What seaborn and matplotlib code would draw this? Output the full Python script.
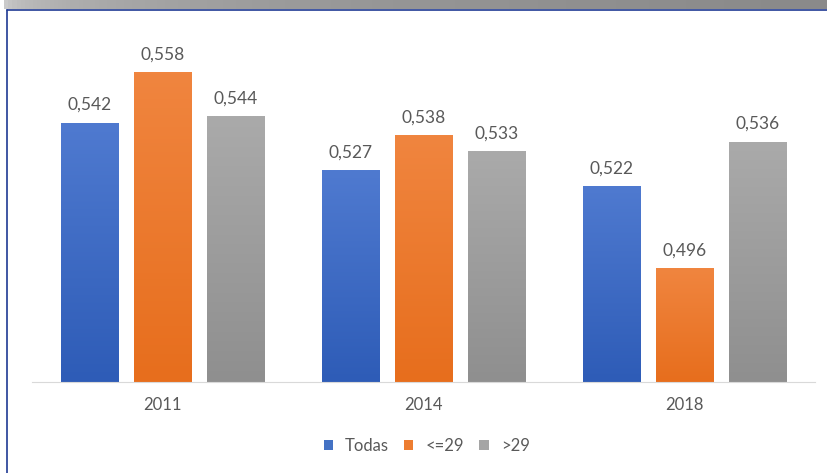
import numpy as np
import pandas as pd
import matplotlib
matplotlib.use("Agg")
from matplotlib import pyplot as plt
from matplotlib.colors import LinearSegmentedColormap
from matplotlib.patches import Patch
import seaborn as sns

years = ["2011", "2014", "2018"]
groups = ["Todas", "<=29", ">29"]
todas = [0.542, 0.527, 0.522]
menor29 = [0.558, 0.538, 0.496]
mayor29 = [0.544, 0.533, 0.536]

colors = {"Todas": "#4472C4", "<=29": "#ED7D31", ">29": "#A5A5A5"}
grad_top = {"Todas": "#4f7ad0", "<=29": "#f0853f", ">29": "#aaaaaa"}
grad_bot = {"Todas": "#2e5cb7", "<=29": "#e76e1d", ">29": "#8f8f8f"}

df = pd.DataFrame({
    "year": years * 3,
    "grupo": [g for g in groups for _ in years],
    "valor": todas + menor29 + mayor29,
})

sns.set_style("white")
plt.rcParams["font.family"] = ["Lato", "DejaVu Sans"]
text_col = "#595959"
ymin, ymax = 0.46, 0.57

fig = plt.figure(figsize=(8.27, 4.73), dpi=100)
ax = fig.add_axes([32 / 827, 1 - 382 / 473, 783 / 827, 348 / 473])
sns.barplot(data=df, x="year", y="valor", hue="grupo", hue_order=groups,
            palette=colors, width=0.84, gap=0.21, ax=ax, legend=False)

# vertical gradient inside each bar (drawn only over the visible part)
for cont, g in zip(ax.containers, groups):
    cmap = LinearSegmentedColormap.from_list(g, [grad_bot[g], grad_top[g]])
    for p in cont.patches:
        x0 = p.get_x()
        x1 = x0 + p.get_width()
        y1 = p.get_y() + p.get_height()
        im = ax.imshow(np.linspace(0, 1, 100).reshape(-1, 1), cmap=cmap,
                       extent=[x0, x1, ymin, y1], origin="lower",
                       aspect="auto", zorder=2)
        im.set_clip_path(p)
    ax.bar_label(cont, labels=[f"{v:.3f}".replace(".", ",") for v in cont.datavalues],
                 padding=7, fontsize=12.5, color=text_col)
ax.set_ylim(ymin, ymax)
ax.set_xlim(-0.5, 2.5)

sns.despine(ax=ax, left=True, top=True, right=True)
ax.spines["bottom"].set_color("#d9d9d9")
ax.spines["bottom"].set_zorder(3)
ax.set_yticks([])
ax.set_xlabel("")
ax.set_ylabel("")
ax.tick_params(axis="x", length=0, pad=11, labelsize=12, labelcolor=text_col)

handles = [Patch(facecolor=colors[g], edgecolor="none") for g in groups]
fig.legend(handles, groups, loc="center", bbox_to_anchor=(0.516, 1 - 446 / 473),
           ncol=3, frameon=False, fontsize=12, labelcolor=text_col,
           handlelength=0.55, handleheight=0.55, handletextpad=0.75, columnspacing=0.9)

# frame: gray band on top and navy border lines
band = fig.add_axes([0, 1 - 9 / 473, 1, 9 / 473])
band.imshow(np.linspace(0, 1, 200).reshape(1, -1) ** 0.15,
            cmap=LinearSegmentedColormap.from_list("b", ["#ffffff", "#8a8a8a"]),
            aspect="auto", extent=[0, 1, 0, 1])
band.axis("off")
fig.add_artist(plt.Line2D([7 / 827, 1], [1 - 10 / 473] * 2, color="#1f3a93", lw=1.2))
fig.add_artist(plt.Line2D([7 / 827] * 2, [0, 1 - 10 / 473], color="#1f3a93", lw=1.2))

fig.savefig("out.png", dpi=100)
